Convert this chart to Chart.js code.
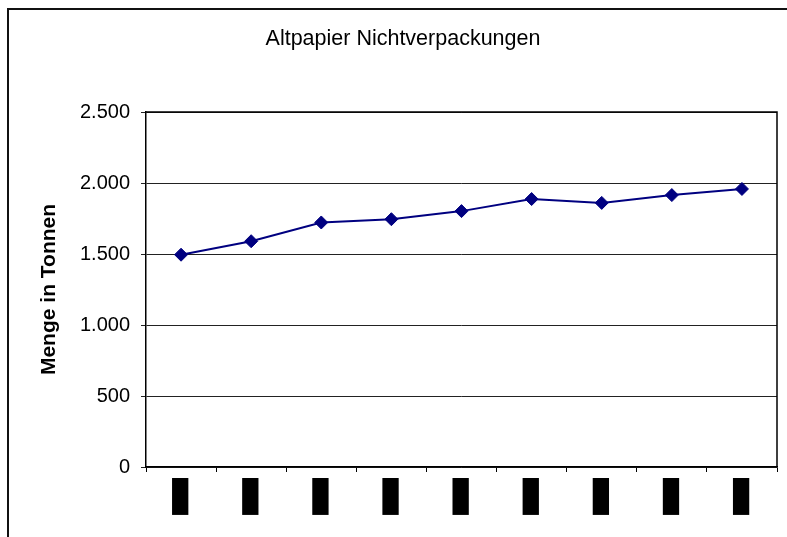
<!DOCTYPE html>
<html lang="de">
<head>
<meta charset="utf-8">
<title>Altpapier Nichtverpackungen</title>
<script src="https://cdn.jsdelivr.net/npm/chart.js@4/dist/chart.umd.min.js"></script>
<style>
  html, body { margin: 0; padding: 0; background: #ffffff; }
  canvas { display: block; }
</style>
</head>
<body>
<canvas id="chart" width="787" height="537"></canvas>
<script>
// Jahreswerte der Altpapiermenge (Nichtverpackungen) in Tonnen
const years = ['1996', '1997', '1998', '1999', '2000', '2001', '2002', '2003', '2004'];
const tonnen = [1495, 1590, 1722, 1745, 1802, 1887, 1860, 1915, 1958];

const chartTitle = 'Altpapier Nichtverpackungen';
const yAxisTitle = 'Menge in Tonnen';
const yMin = 0;
const yMax = 2500;
const yStep = 500;

// Tausenderpunkt wie im deutschen Zahlenformat
function formatDE(v) {
  return String(v).replace(/\B(?=(\d{3})+(?!\d))/g, '.');
}

// Weißer Hintergrund, äußerer Rahmen und Rahmen um die Zeichenfläche
const framePlugin = {
  id: 'frame',
  beforeDraw(chart) {
    const ctx = chart.ctx;
    ctx.save();
    ctx.fillStyle = '#ffffff';
    ctx.fillRect(0, 0, chart.width, chart.height);
    ctx.strokeStyle = '#111111';
    ctx.lineWidth = 2;
    ctx.beginPath();
    ctx.moveTo(8, chart.height);
    ctx.lineTo(8, 9);
    ctx.lineTo(chart.width, 9);
    ctx.stroke();
    ctx.restore();
  },
  afterDatasetsDraw(chart) {
    const a = chart.chartArea;
    const ctx = chart.ctx;
    ctx.save();
    ctx.strokeStyle = '#000000';
    ctx.lineWidth = 1.5;
    ctx.beginPath();
    ctx.moveTo(Math.round(a.left), Math.round(a.top));
    ctx.lineTo(Math.round(a.right), Math.round(a.top));
    ctx.lineTo(Math.round(a.right), Math.round(a.bottom));
    ctx.stroke();
    ctx.restore();
  }
};

new Chart(document.getElementById('chart'), {
  type: 'line',
  data: {
    labels: years,
    datasets: [{
      label: yAxisTitle,
      data: tonnen,
      borderColor: '#000080',
      backgroundColor: '#000080',
      borderWidth: 2,
      tension: 0,
      pointStyle: 'rectRot',
      pointRadius: 6.5,
      pointHoverRadius: 6.5,
      pointBackgroundColor: '#000080',
      pointBorderColor: '#000080',
      pointBorderWidth: 1,
      clip: false
    }]
  },
  options: {
    responsive: false,
    devicePixelRatio: 1,
    animation: false,
    layout: {
      autoPadding: false,
      padding: { left: 29, right: 10, top: 0, bottom: 0 }
    },
    plugins: {
      legend: { display: false },
      tooltip: { enabled: false },
      title: {
        display: true,
        text: chartTitle,
        color: '#000000',
        font: { family: '"Liberation Sans", Arial, sans-serif', size: 21.5, weight: 'normal', lineHeight: 1.2 },
        padding: { top: 26.6, bottom: 59.6 }
      }
    },
    scales: {
      x: {
        type: 'category',
        offset: true,
        grid: {
          offset: true,
          drawOnChartArea: false,
          drawTicks: true,
          tickLength: 5,
          color: '#000000',
          lineWidth: 1
        },
        border: { display: true, color: '#000000', width: 1.5 },
        ticks: {
          autoSkip: false,
          minRotation: 90,
          maxRotation: 90,
          padding: 10,
          labelOffset: -8,
          color: '#000000',
          font: { family: '"Liberation Sans", Arial, sans-serif', size: 13, weight: 'bold', lineHeight: 1.1 },
          showLabelBackdrop: true,
          backdropColor: '#000000',
          backdropPadding: { top: 1, bottom: 1, left: 4, right: 4 }
        },
        afterFit(scale) { scale.height = 70; }
      },
      y: {
        min: yMin,
        max: yMax,
        ticks: {
          stepSize: yStep,
          padding: 11,
          color: '#000000',
          font: { family: '"Liberation Sans", Arial, sans-serif', size: 20 },
          callback: (v) => formatDE(v)
        },
        grid: {
          color: '#222222',
          lineWidth: 1,
          drawTicks: true,
          tickLength: 5
        },
        border: { display: true, color: '#000000', width: 1.5 },
        title: {
          display: true,
          text: yAxisTitle,
          color: '#000000',
          font: { family: '"Liberation Sans", Arial, sans-serif', size: 21, weight: 'bold', lineHeight: 1.2 },
          padding: { top: 7.4, bottom: 0 }
        },
        afterFit(scale) { scale.width = 117; }
      }
    }
  },
  plugins: [framePlugin]
});
</script>
</body>
</html>
